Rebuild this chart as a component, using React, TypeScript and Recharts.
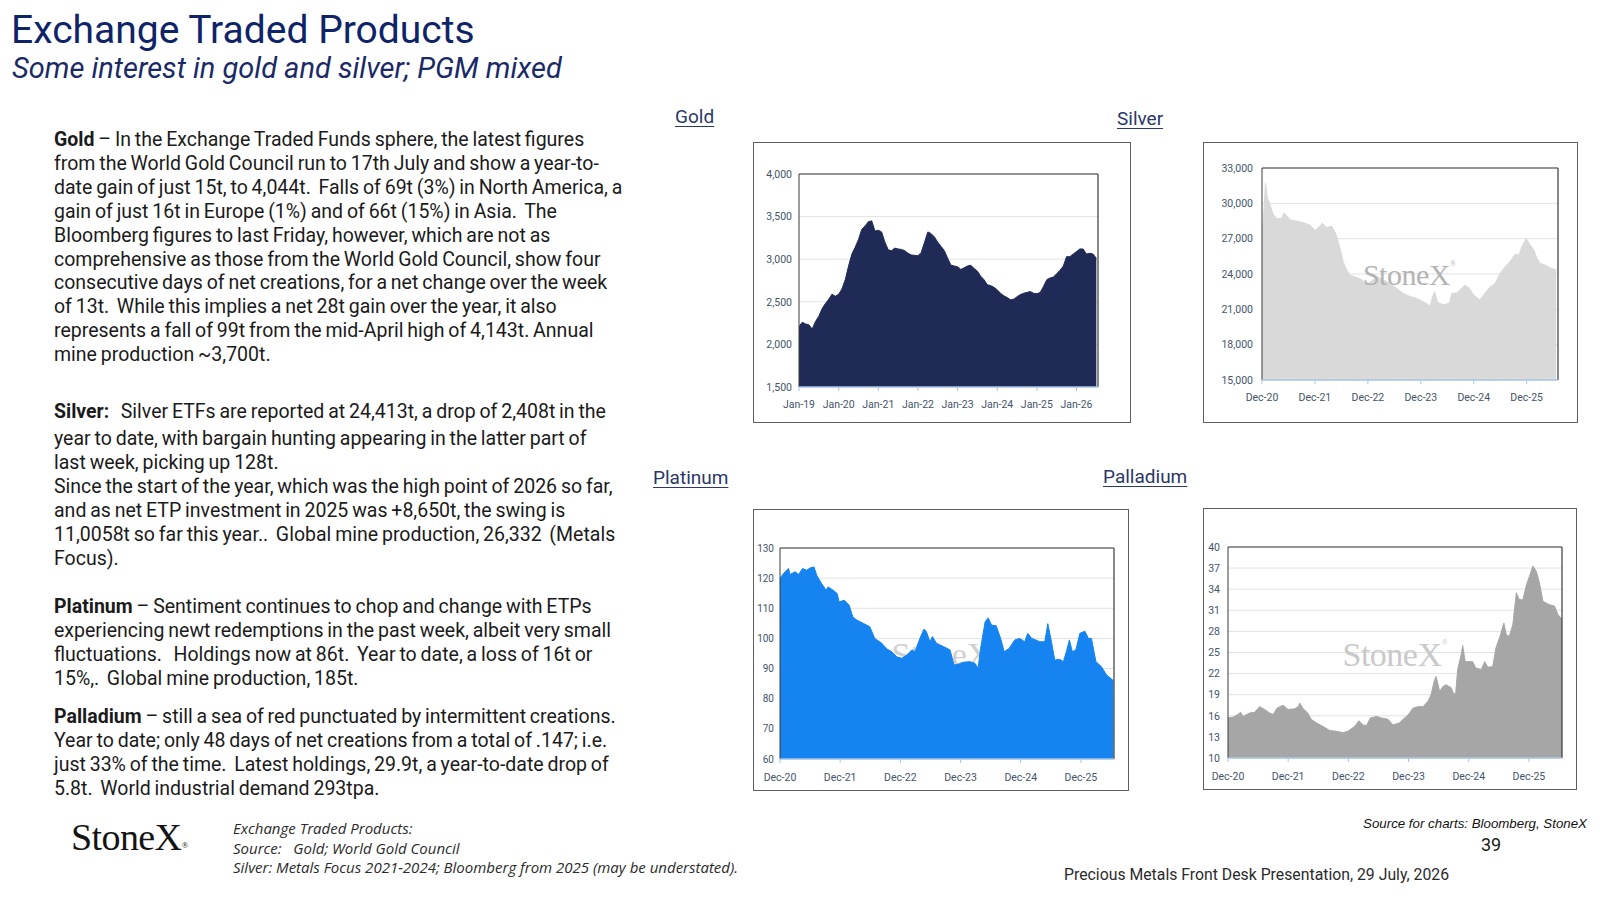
import React from "react";
import { AreaChart, Area, XAxis, YAxis, CartesianGrid, ReferenceLine } from "recharts";

// ---------- DATA ----------
const goldTickMonths = [0, 12, 24, 36, 48, 60, 72, 84];
const goldTickLabels = ["Jan-19", "Jan-20", "Jan-21", "Jan-22", "Jan-23", "Jan-24", "Jan-25", "Jan-26"];
const goldYTicks = [1500, 2000, 2500, 3000, 3500, 4000];
// monthly, Jan-19 .. Jul-26 (tonnes)
const goldValues = [
  2210, 2260, 2240, 2230, 2180, 2270, 2330, 2420, 2480, 2530, 2590, 2565,
  2590, 2650, 2760, 2920, 3060, 3140, 3230, 3350, 3390, 3440, 3450, 3330,
  3340, 3320, 3200, 3110, 3100, 3130, 3120, 3115, 3100, 3070, 3050, 3045,
  3040, 3080, 3200, 3320, 3300, 3260, 3200, 3150, 3100, 3010, 2930, 2920,
  2910, 2880, 2900, 2920, 2930, 2890, 2860, 2800, 2760, 2700, 2690, 2670,
  2640, 2600, 2570, 2550, 2525, 2530, 2560, 2585, 2600, 2610, 2620, 2600,
  2595, 2610, 2680, 2760, 2780, 2790, 2830, 2870, 2920, 3030, 3030, 3060,
  3090, 3120, 3120, 3060, 3070, 3060, 3010,
];
const goldMonths = goldValues.map((_, i) => i);

const decTickMonths = [0, 12, 24, 36, 48, 60];
const decTickLabels = ["Dec-20", "Dec-21", "Dec-22", "Dec-23", "Dec-24", "Dec-25"];

const silverYTicks = [15000, 18000, 21000, 24000, 27000, 30000, 33000];
// months since Dec-20
const silverMonths = [
  0, 0.3, 0.8, 1.2, 1.7, 2.5, 3.3, 4.4, 5.0, 5.7, 6.4, 7.9, 9.4, 10.9, 12.0, 12.8, 13.7,
  14.6, 15.8, 16.7, 17.6, 18.4, 19.2, 19.9, 21.1, 22.2, 23.3, 24.1, 25.2, 26.3, 27.5, 29.0,
  30.5, 32.0, 33.5, 35.0, 36.5, 37.7, 38.1, 38.6, 39.1, 39.8, 41.1, 42.5, 43.0, 44.2, 45.3,
  46.0, 47.0, 47.9, 49.4, 50.5, 51.7, 52.8, 54.0, 55.1, 56.2, 57.4, 58.2, 58.9, 59.9, 60.8,
  61.6, 62.3, 63.1, 64.2, 65.4, 66.7,
];
const silverValues = [
  27700, 28500, 31700, 30500, 30000, 29100, 28700, 28700, 29200, 28900, 28600, 28500, 28350,
  28150, 27700, 27950, 28300, 27950, 28050, 27450, 26300, 25050, 24350, 23900, 23750, 23600,
  23350, 23200, 23500, 23750, 23500, 23200, 22800, 22350, 22100, 21950, 21650, 21400, 21200,
  22000, 22500, 21600, 21400, 21500, 22350, 22400, 22800, 23050, 22800, 22250, 21800, 22350,
  22900, 23200, 24050, 24600, 25050, 25700, 25600, 26300, 27000, 26450, 26050, 25350, 24900,
  24750, 24500, 24350,
];

const platYTicks = [60, 70, 80, 90, 100, 110, 120, 130];
const platMonths = [
  0, 0.7, 1.3, 1.7, 2.0, 3.0, 3.7, 4.5, 5.3, 6.0, 6.8, 7.3, 8.3, 9.2, 9.6, 10.6, 11.4, 11.8,
  12.8, 13.8, 14.5, 15.3, 16.6, 17.9, 18.9, 20.3, 21.3, 22.3, 23.3, 24.3, 25.3, 26.3, 26.9,
  27.9, 28.7, 29.2, 29.9, 30.4, 31.2, 32.6, 33.9, 34.7, 35.6, 36.5, 37.9, 38.9, 39.5, 40.0,
  40.9, 41.5, 42.2, 43.1, 44.0, 44.7, 45.7, 46.8, 47.8, 48.8, 49.4, 50.2, 51.0, 51.8, 52.8,
  53.4, 54.0, 54.8, 55.7, 56.5, 57.1, 57.7, 58.3, 59.0, 59.8, 60.8, 61.5, 62.1, 63.0, 64.1,
  65.1, 66.5,
];
const platValues = [
  119.9, 121.5, 122.6, 123.2, 121.2, 122.1, 121.2, 123.2, 122.6, 123.4, 123.7, 121.0, 118.2,
  116.0, 117.1, 116.0, 114.9, 112.1, 112.7, 111.0, 107.2, 106.1, 105.0, 103.9, 100.0, 98.4,
  96.5, 95.6, 93.9, 93.4, 94.5, 96.2, 95.6, 100.0, 103.1, 102.2, 98.9, 100.6, 98.4, 97.3,
  96.2, 91.2, 91.5, 92.1, 92.3, 91.7, 90.1, 96.7, 105.5, 106.8, 104.4, 104.2, 100.0, 95.6,
  96.7, 99.5, 100.0, 98.9, 101.7, 100.0, 99.5, 98.9, 98.9, 104.9, 100.0, 92.8, 93.1, 92.3,
  95.6, 99.5, 95.6, 96.2, 101.7, 102.4, 100.0, 100.0, 92.3, 90.6, 87.9, 86.0,
];

const pallYTicks = [10, 13, 16, 19, 22, 25, 28, 31, 34, 37, 40];
const pallMonths = [
  0, 1.0, 2.0, 2.5, 3.0, 4.3, 5.3, 6.3, 7.3, 8.3, 9.0, 9.8, 11.0, 12.0, 13.3, 14.0, 14.3,
  15.0, 15.9, 16.6, 17.6, 18.9, 20.3, 21.6, 22.9, 23.9, 24.9, 25.6, 26.1, 26.9, 27.6, 28.4,
  29.6, 30.6, 31.9, 32.9, 34.2, 35.2, 35.9, 36.9, 37.9, 38.9, 39.9, 40.5, 41.1, 41.5, 42.2,
  42.9, 43.5, 44.5, 45.0, 45.4, 45.8, 46.5, 46.8, 47.3, 48.2, 48.8, 49.4, 50.5, 51.2, 51.8,
  52.8, 53.4, 54.2, 55.0, 55.5, 56.1, 56.8, 57.5, 58.1, 58.8, 59.5, 60.1, 60.8, 61.5, 62.1,
  62.8, 63.5, 64.1, 65.1, 65.8, 66.6,
];
const pallValues = [
  15.7, 15.8, 16.2, 16.5, 15.9, 16.4, 16.5, 17.3, 16.9, 16.4, 16.2, 17.1, 17.5, 16.9, 17.0,
  17.3, 17.8, 17.0, 16.4, 15.5, 15.0, 14.5, 13.9, 13.8, 13.6, 13.8, 14.3, 14.8, 15.3, 14.7,
  14.6, 15.7, 15.9, 15.7, 15.5, 14.7, 15.0, 15.7, 16.1, 17.1, 17.3, 17.3, 18.1, 19.0, 20.9,
  21.6, 19.5, 20.2, 20.4, 20.0, 19.1, 19.2, 22.6, 24.7, 26.0, 23.7, 23.7, 23.7, 22.8, 22.6,
  23.7, 22.9, 23.0, 25.6, 27.2, 29.2, 27.5, 27.3, 29.0, 33.5, 32.5, 32.5, 34.6, 35.8, 37.3,
  36.5, 34.9, 32.3, 32.0, 31.8, 31.6, 30.4, 29.7,
];

// ---------- COMPONENTS ----------
const BODY_FONT = "Roboto, 'Noto Sans', sans-serif";
const TICK_FONT = "Roboto, 'Liberation Sans', sans-serif";

type PanelProps = {
  box: [number, number, number, number];
  plot: { left: number; top: number; right: number; bottom: number };
  months: number[];
  values: number[];
  xDomain: [number, number];
  xTicks: number[];
  xLabels: string[];
  yTicks: number[];
  fill: string;
  tickColor: string;
  yThousands?: boolean;
  xTickMargin: number;
  yTickMargin: number;
  yFontSize?: number;
  watermark?: { x: number; y: number; size: number; color: string; behind: boolean };
};

function Watermark({ w }: { w: NonNullable<PanelProps["watermark"]> }) {
  return (
    <div
      style={{
        position: "absolute",
        left: w.x,
        top: w.y,
        transform: "translate(-50%, -50%)",
        fontFamily: "'Liberation Serif', 'DejaVu Serif', serif",
        fontSize: w.size,
        color: w.color,
        whiteSpace: "nowrap",
        letterSpacing: -0.5,
        pointerEvents: "none",
        lineHeight: 1,
      }}
    >
      StoneX<span style={{ fontSize: w.size * 0.25, verticalAlign: "top" }}>®</span>
    </div>
  );
}

function Panel(p: PanelProps) {
  const [bx, by, bw, bh] = p.box;
  const data = p.months.slice(0, p.values.length).map((t, i) => ({ t, v: p.values[i] }));
  const cw = bw - 2;
  const ch = bh - 2;
  const yAxisWidth = p.plot.left - bx - 1;
  const top = p.plot.top - by - 1;
  const right = bx + bw - 1 - p.plot.right;
  const xAxisHeight = by + bh - 1 - p.plot.bottom;
  const yMin = p.yTicks[0];
  const yMax = p.yTicks[p.yTicks.length - 1];
  const fmtY = (v: number) => (p.yThousands ? v.toLocaleString("en-US") : String(v));
  const fmtX = (v: number) => {
    const i = p.xTicks.indexOf(v);
    return i >= 0 ? p.xLabels[i] : "";
  };
  return (
    <div
      style={{
        position: "absolute",
        left: bx,
        top: by,
        width: bw,
        height: bh,
        boxSizing: "border-box",
        border: "1px solid #5f5f5f",
        background: "#fff",
      }}
    >
      {p.watermark && p.watermark.behind && <Watermark w={p.watermark} />}
      <div style={{ position: "absolute", left: 0, top: 0 }}>
        <AreaChart
          width={cw}
          height={ch}
          data={data}
          margin={{ top, right, bottom: 0, left: 0 }}
          style={{ overflow: "visible" }}
        >
          <CartesianGrid vertical={false} stroke="#e2e2e2" strokeWidth={1} />
          <XAxis
            type="number"
            dataKey="t"
            domain={p.xDomain}
            ticks={p.xTicks}
            interval={0}
            allowDataOverflow
            height={xAxisHeight}
            tickFormatter={fmtX}
            tick={{ fill: p.tickColor, fontSize: 10.5, fontFamily: TICK_FONT }}
            tickSize={4}
            tickMargin={p.xTickMargin}
            axisLine={{ stroke: "#a8c6e6", strokeWidth: 1.5 }}
            tickLine={{ stroke: "#a8c6e6" }}
          />
          <YAxis
            type="number"
            domain={[yMin, yMax]}
            ticks={p.yTicks}
            interval={0}
            width={yAxisWidth}
            tickFormatter={fmtY}
            tick={{ fill: p.tickColor, fontSize: p.yFontSize ?? 10.5, fontFamily: TICK_FONT }}
            tickSize={0}
            tickMargin={p.yTickMargin}
            axisLine={false}
            tickLine={false}
          />
          <Area
            type="linear"
            dataKey="v"
            stroke={p.fill}
            strokeWidth={1}
            fill={p.fill}
            fillOpacity={1}
            isAnimationActive={false}
            dot={false}
            activeDot={false}
          />
          <ReferenceLine y={yMax} stroke="#3a3a3a" strokeWidth={1.2} />
          <ReferenceLine x={p.xDomain[1]} stroke="#3a3a3a" strokeWidth={1.2} />
          <ReferenceLine x={p.xDomain[0]} stroke="#3a3a3a" strokeWidth={1} />
        </AreaChart>
      </div>
      {p.watermark && !p.watermark.behind && <Watermark w={p.watermark} />}
    </div>
  );
}

function SectionLabel({ x, y, text }: { x: number; y: number; text: string }) {
  return (
    <div
      style={{
        position: "absolute",
        left: x,
        top: y,
        fontFamily: BODY_FONT,
        fontSize: 19,
        color: "#2a3768",
        textDecoration: "underline",
        textUnderlineOffset: 3,
        lineHeight: "20px",
        whiteSpace: "nowrap",
      }}
    >
      {text}
    </div>
  );
}

function Lines({ x, y, lh, lines }: { x: number; y: number; lh: number; lines: React.ReactNode[] }) {
  return (
    <div
      style={{
        position: "absolute",
        left: x,
        top: y,
        fontFamily: BODY_FONT,
        fontSize: 19.5,
        wordSpacing: -1,
        color: "#1b1b1b",
        lineHeight: lh + "px",
        whiteSpace: "pre",
      }}
    >
      {lines.map((l, i) => (
        <div key={i}>{l}</div>
      ))}
    </div>
  );
}

export default function App() {
  return (
    <div style={{ position: "relative", width: 1600, height: 900, margin: -8, background: "#fff", overflow: "hidden" }}>
      {/* Title */}
      <div
        style={{
          position: "absolute",
          left: 11,
          top: 8,
          fontFamily: BODY_FONT,
          fontSize: 39,
          color: "#0f2468",
          lineHeight: "44px",
          whiteSpace: "nowrap",
        }}
      >
        Exchange Traded Products
      </div>
      <div
        style={{
          position: "absolute",
          left: 12,
          top: 51,
          fontFamily: BODY_FONT,
          fontStyle: "italic",
          fontSize: 29,
          color: "#1a2a66",
          lineHeight: "34px",
          whiteSpace: "nowrap",
        }}
      >
        Some interest in gold and silver; PGM mixed
      </div>

      {/* Body text */}
      <Lines
        x={54}
        y={128}
        lh={23.9}
        lines={[
          <span><b>Gold</b> – In the Exchange Traded Funds sphere, the latest figures</span>,
          "from the World Gold Council run to 17th July and show a year-to-",
          "date gain of just 15t, to 4,044t.  Falls of 69t (3%) in North America, a",
          "gain of just 16t in Europe (1%) and of 66t (15%) in Asia.  The",
          "Bloomberg figures to last Friday, however, which are not as",
          "comprehensive as those from the World Gold Council, show four",
          "consecutive days of net creations, for a net change over the week",
          "of 13t.  While this implies a net 28t gain over the year, it also",
          "represents a fall of 99t from the mid-April high of 4,143t. Annual",
          "mine production ~3,700t.",
        ]}
      />
      <Lines
        x={54}
        y={400}
        lh={24}
        lines={[<span><b>Silver:</b>   Silver ETFs are reported at 24,413t, a drop of 2,408t in the</span>]}
      />
      <Lines
        x={54}
        y={427}
        lh={24}
        lines={[
          "year to date, with bargain hunting appearing in the latter part of",
          "last week, picking up 128t.",
          "Since the start of the year, which was the high point of 2026 so far,",
          "and as net ETP investment in 2025 was +8,650t, the swing is",
          "11,0058t so far this year..  Global mine production, 26,332  (Metals",
          "Focus).",
        ]}
      />
      <Lines
        x={54}
        y={595}
        lh={24}
        lines={[
          <span><b>Platinum</b> – Sentiment continues to chop and change with ETPs</span>,
          "experiencing newt redemptions in the past week, albeit very small",
          "fluctuations.   Holdings now at 86t.  Year to date, a loss of 16t or",
          "15%,.  Global mine production, 185t.",
        ]}
      />
      <Lines
        x={54}
        y={705}
        lh={24}
        lines={[
          <span><b>Palladium</b> – still a sea of red punctuated by intermittent creations.</span>,
          "Year to date; only 48 days of net creations from a total of .147; i.e.",
          "just 33% of the time.  Latest holdings, 29.9t, a year-to-date drop of",
          "5.8t.  World industrial demand 293tpa.",
        ]}
      />

      {/* Section labels */}
      <SectionLabel x={675} y={107} text="Gold" />
      <SectionLabel x={1117} y={109} text="Silver" />
      <SectionLabel x={653} y={468} text="Platinum" />
      <SectionLabel x={1103} y={467} text="Palladium" />

      {/* Charts */}
      <Panel
        box={[753, 142, 378, 281]}
        plot={{ left: 799, top: 174, right: 1098, bottom: 387 }}
        months={goldMonths}
        values={goldValues}
        xDomain={[0, 90.5]}
        xTicks={goldTickMonths}
        xLabels={goldTickLabels}
        yTicks={goldYTicks}
        fill="#1f2a56"
        tickColor="#44546a"
        yThousands
        xTickMargin={10}
        yTickMargin={7}
      />
      <Panel
        box={[1203, 142, 375, 281]}
        plot={{ left: 1262, top: 168, right: 1558, bottom: 380 }}
        months={silverMonths}
        values={silverValues}
        xDomain={[0, 67.1]}
        xTicks={decTickMonths}
        xLabels={decTickLabels}
        yTicks={silverYTicks}
        fill="#d9d9d9"
        tickColor="#44546a"
        yThousands
        xTickMargin={10}
        yTickMargin={9}
        watermark={{ x: 205, y: 132, size: 30, color: "#b3b3b3", behind: false }}
      />
      <Panel
        box={[753, 509, 376, 282]}
        plot={{ left: 780, top: 548, right: 1114, bottom: 759 }}
        months={platMonths}
        values={platValues}
        xDomain={[0, 66.6]}
        xTicks={decTickMonths}
        xLabels={decTickLabels}
        yTicks={platYTicks}
        fill="#1584f0"
        tickColor="#44546a"
        xTickMargin={11}
        yTickMargin={6}
        yFontSize={10}
        watermark={{ x: 190, y: 145, size: 34, color: "#cfcfcf", behind: true }}
      />
      <Panel
        box={[1203, 508, 374, 282]}
        plot={{ left: 1228, top: 547, right: 1562, bottom: 758 }}
        months={pallMonths}
        values={pallValues}
        xDomain={[0, 66.6]}
        xTicks={decTickMonths}
        xLabels={decTickLabels}
        yTicks={pallYTicks}
        fill="#a6a6a6"
        tickColor="#44546a"
        xTickMargin={11}
        yTickMargin={8}
        watermark={{ x: 191, y: 146, size: 34, color: "#c9c9c9", behind: false }}
      />

      {/* Footer */}
      <div
        style={{
          position: "absolute",
          left: 71,
          top: 815,
          fontFamily: "'Liberation Serif', 'DejaVu Serif', serif",
          fontSize: 38,
          color: "#141414",
          lineHeight: "44px",
          letterSpacing: -0.6,
          whiteSpace: "nowrap",
        }}
      >
        StoneX<span style={{ fontSize: 9, verticalAlign: "top", position: "relative", top: 8 }}>®</span>
      </div>
      <div
        style={{
          position: "absolute",
          left: 233,
          top: 819,
          fontFamily: "'Open Sans', sans-serif",
          fontStyle: "italic",
          fontSize: 15,
          color: "#2b2b2b",
          lineHeight: "19.5px",
          whiteSpace: "pre",
        }}
      >
        <div>Exchange Traded Products:</div>
        <div>Source:   Gold; World Gold Council</div>
        <div>Silver: Metals Focus 2021-2024; Bloomberg from 2025 (may be understated).</div>
      </div>
      <div
        style={{
          position: "absolute",
          right: 1600 - 1587,
          top: 816,
          fontFamily: "'Liberation Sans', Arial, sans-serif",
          fontStyle: "italic",
          fontSize: 13.3,
          color: "#111",
          lineHeight: "16px",
          whiteSpace: "nowrap",
        }}
      >
        Source for charts: Bloomberg, StoneX
      </div>
      <div
        style={{
          position: "absolute",
          left: 1481,
          top: 834,
          fontFamily: BODY_FONT,
          fontSize: 18,
          color: "#1b1b1b",
          lineHeight: "22px",
        }}
      >
        39
      </div>
      <div
        style={{
          position: "absolute",
          left: 1064,
          top: 866,
          fontFamily: BODY_FONT,
          fontSize: 15.8,
          color: "#2b2b2b",
          lineHeight: "18px",
          whiteSpace: "nowrap",
        }}
      >
        Precious Metals Front Desk Presentation, 29 July, 2026
      </div>
    </div>
  );
}
